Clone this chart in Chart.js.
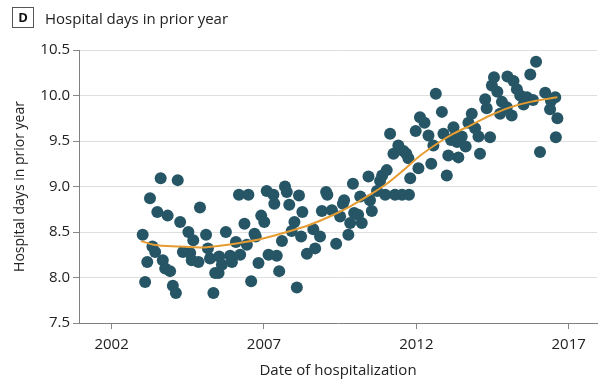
<!DOCTYPE html>
<html>
<head>
<meta charset="utf-8">
<script src="https://cdn.jsdelivr.net/npm/chart.js@4/dist/chart.umd.min.js"></script>
<style>
  html, body { margin: 0; padding: 0; background: #ffffff; }
  #wrap { width: 605px; height: 381px; position: relative; }
</style>
</head>
<body>
<div id="wrap"><canvas id="chart" width="605" height="381"></canvas></div>
<script>
// Monthly admissions: date (decimal year) and mean hospital days in the prior year
const admissionDates = [
  2003.02, 2003.10, 2003.17, 2003.26, 2003.34, 2003.43, 2003.50, 2003.61, 2003.68, 2003.76,
  2003.84, 2003.92, 2004.01, 2004.11, 2004.17, 2004.25, 2004.34, 2004.52, 2004.58, 2004.63,
  2004.68, 2004.85, 2004.90, 2005.10, 2005.16, 2005.23, 2005.34, 2005.40,
  2005.51, 2005.53, 2005.62, 2005.75, 2005.89, 2005.95, 2006.08, 2006.18, 2006.22, 2006.36,
  2006.44, 2006.49, 2006.58, 2006.69, 2006.73, 2006.82, 2006.91, 2007.01, 2007.09, 2007.15,
  2007.31, 2007.34, 2007.42, 2007.50, 2007.59, 2007.69, 2007.75, 2007.83, 2007.91, 2008.00,
  2008.08, 2008.15, 2008.22, 2008.26,
  2008.41, 2008.62, 2008.68, 2008.84, 2008.90, 2009.04, 2009.08, 2009.23, 2009.37, 2009.50,
  2009.59, 2009.63, 2009.77, 2009.83, 2009.92, 2009.96, 2010.09, 2010.16, 2010.21, 2010.43,
  2010.48, 2010.54, 2010.71, 2010.81, 2010.88, 2010.98, 2011.03,
  2011.14, 2011.25, 2011.30, 2011.41, 2011.53, 2011.58, 2011.67, 2011.74, 2011.76, 2011.80,
  2011.98, 2012.07, 2012.12, 2012.27, 2012.40, 2012.49, 2012.56, 2012.64, 2012.84, 2012.89,
  2013.00, 2013.05, 2013.14, 2013.22, 2013.27, 2013.34, 2013.38, 2013.49, 2013.62, 2013.71,
  2013.82, 2013.93, 2014.04, 2014.09, 2014.26, 2014.31, 2014.42, 2014.48, 2014.55, 2014.66,
  2014.75, 2014.81, 2014.97, 2014.99, 2015.13, 2015.19, 2015.30, 2015.41, 2015.52, 2015.63,
  2015.74, 2015.83, 2015.93, 2016.06, 2016.23, 2016.39, 2016.42, 2016.56, 2016.58, 2016.63
];
const hospitalDays = [
  8.47, 7.95, 8.17, 8.87, 8.34, 8.28, 8.72, 9.09, 8.19, 8.10,
  8.68, 8.07, 7.91, 7.83, 9.07, 8.61, 8.28, 8.50, 8.27, 8.19,
  8.41, 8.17, 8.77, 8.47, 8.32, 8.21, 7.83, 8.05,
  8.05, 8.23, 8.14, 8.50, 8.24, 8.17, 8.39, 8.91, 8.25, 8.59,
  8.36, 8.91, 7.96, 8.48, 8.45, 8.16, 8.68, 8.61, 8.95, 8.25,
  8.91, 8.81, 8.24, 8.07, 8.40, 9.00, 8.94, 8.80, 8.51, 8.61,
  7.89, 8.90, 8.45, 8.72,
  8.26, 8.53, 8.32, 8.45, 8.73, 8.94, 8.91, 8.74, 8.37, 8.67,
  8.81, 8.85, 8.47, 8.60, 9.03, 8.71, 8.69, 8.89, 8.60, 9.11,
  8.85, 8.73, 8.95, 9.06, 9.12, 8.91, 9.18,
  9.58, 9.36, 8.91, 9.45, 8.91, 9.39, 9.36, 9.31, 8.91, 9.09,
  9.61, 9.20, 9.76, 9.70, 9.56, 9.25, 9.45, 10.02, 9.82, 9.58,
  9.12, 9.34, 9.51, 9.65, 9.55, 9.49, 9.32, 9.55, 9.44, 9.70,
  9.80, 9.64, 9.55, 9.36, 9.96, 9.86, 9.54, 10.11, 10.20, 10.04,
  9.80, 9.93, 9.87, 10.21, 9.78, 10.16, 10.07, 10.00, 9.90, 9.98,
  10.23, 9.95, 10.37, 9.38, 10.03, 9.85, 9.94, 9.98, 9.54, 9.75
];

// Smoothed trend through the monthly values
const trendDates = [
  2002.97, 2003.38, 2004.25, 2004.91, 2005.56, 2006.21, 2006.87, 2007.75, 2008.51, 2009.16,
  2009.82, 2010.48, 2011.03, 2011.58, 2012.13, 2012.68, 2013.22, 2013.77, 2014.42, 2015.08,
  2015.74, 2016.63
];
const trendDays = [
  8.40, 8.36, 8.34, 8.33, 8.35, 8.38, 8.42, 8.50, 8.58, 8.67,
  8.78, 8.91, 9.03, 9.18, 9.34, 9.47, 9.58, 9.67, 9.78, 9.87,
  9.93, 9.98
];

const yearTicks = [2002, 2007, 2012, 2017];
const dayTicks = [7.5, 8.0, 8.5, 9.0, 9.5, 10.0, 10.5];

const panelLetter = 'D';
const panelTitle = 'Hospital days in prior year';
const xTitle = 'Date of hospitalization';
const yTitle = 'Hospital days in prior year';

const FONT = '"Open Sans", "Liberation Sans", sans-serif';
const TEXT = '#222222';

const toXY = (xs, ys) => xs.map((x, i) => ({ x: x, y: ys[i] }));

// Panel heading: boxed letter followed by the title
const panelHeading = {
  id: 'panelHeading',
  afterDraw(chart) {
    const ctx = chart.ctx;
    ctx.save();
    ctx.strokeStyle = '#555555';
    ctx.lineWidth = 1;
    ctx.strokeRect(12.5, 7.5, 21, 20);
    ctx.fillStyle = '#111111';
    ctx.font = 'bold 13px ' + FONT;
    ctx.textAlign = 'center';
    ctx.textBaseline = 'middle';
    ctx.fillText(panelLetter, 23, 18);
    ctx.font = '15px ' + FONT;
    ctx.textAlign = 'left';
    ctx.textBaseline = 'alphabetic';
    ctx.fillStyle = TEXT;
    ctx.fillText(panelTitle, 45, 23.5);
    ctx.restore();
  }
};

new Chart(document.getElementById('chart'), {
  type: 'scatter',
  data: {
    datasets: [
      {
        type: 'line',
        data: toXY(trendDates, trendDays),
        borderColor: '#e69c30',
        borderWidth: 2,
        pointRadius: 0,
        fill: false,
        cubicInterpolationMode: 'monotone'
      },
      {
        type: 'scatter',
        data: toXY(admissionDates, hospitalDays),
        backgroundColor: '#265666',
        borderColor: '#265666',
        borderWidth: 0,
        pointRadius: 6,
        pointHoverRadius: 6
      }
    ]
  },
  plugins: [panelHeading],
  options: {
    responsive: false,
    animation: false,
    events: [],
    layout: { padding: { top: 50, right: 8, bottom: 0, left: 0 } },
    plugins: {
      legend: { display: false },
      tooltip: { enabled: false },
      title: { display: false }
    },
    scales: {
      x: {
        type: 'linear',
        min: 2000.93,
        max: 2017.93,
        afterBuildTicks(scale) { scale.ticks = yearTicks.map(v => ({ value: v })); },
        afterFit(scale) { scale.height = 58; },
        ticks: {
          color: TEXT,
          font: { family: FONT, size: 15 },
          padding: 7,
          maxRotation: 0,
          callback: v => String(v)
        },
        grid: {
          drawOnChartArea: false,
          drawTicks: true,
          tickLength: 6,
          tickColor: '#888888'
        },
        border: { color: '#808080', width: 1 },
        title: {
          display: true,
          text: xTitle,
          color: TEXT,
          font: { family: FONT, size: 15 },
          padding: { top: 0, bottom: 1 }
        }
      },
      y: {
        min: 7.5,
        max: 10.5,
        afterBuildTicks(scale) { scale.ticks = dayTicks.map(v => ({ value: v })); },
        afterFit(scale) { scale.width = 79; },
        ticks: {
          color: TEXT,
          font: { family: FONT, size: 15 },
          padding: 3,
          callback: v => v.toFixed(1)
        },
        grid: {
          color: ctx => (ctx.tick && ctx.tick.value === 7.5) ? 'rgba(0,0,0,0)' : '#dedede',
          lineWidth: 1,
          drawTicks: true,
          tickLength: 6,
          tickColor: '#888888'
        },
        border: { color: '#808080', width: 1 },
        title: {
          display: true,
          text: yTitle,
          color: TEXT,
          font: { family: FONT, size: 14 },
          padding: { top: 12, bottom: 0 }
        }
      }
    }
  }
});
</script>
</body>
</html>
